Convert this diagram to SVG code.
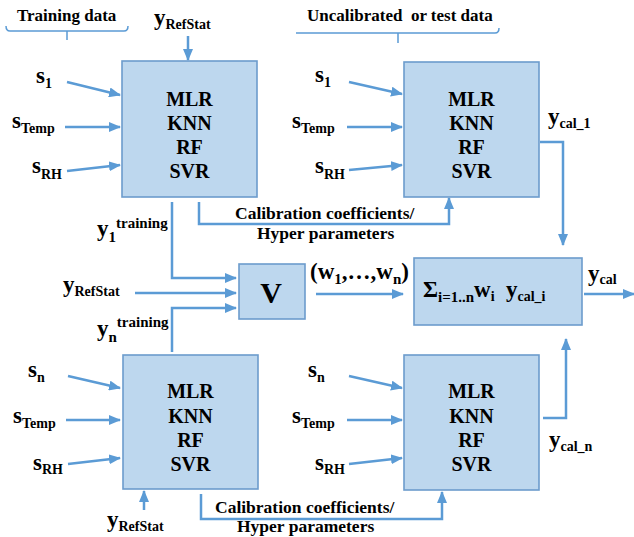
<svg xmlns="http://www.w3.org/2000/svg" width="634" height="537" viewBox="0 0 634 537">
<style>
.box{fill:#bdd7ee;stroke:#6c9ccc;stroke-width:1.6}
.c{fill:none;stroke:#5b9bd5;stroke-width:2.5}
.br{fill:none;stroke:#5b9bd5;stroke-width:1.5}
</style>
<defs>
<marker id="ah" markerUnits="userSpaceOnUse" markerWidth="12" markerHeight="10" refX="11" refY="5" orient="auto">
<path d="M0,0 L12,5 L0,10 Z" fill="#5b9bd5"/>
</marker>
</defs>

<g id="headers">
<text font-family="Liberation Serif" font-weight="bold" font-size="17" x="17" y="21">Training data</text>
<path class="br" d="M6,26 Q6,31 10,31 L124,31 Q128,31 128,26 M67,31 L67,40"/>
<text font-family="Liberation Serif" font-weight="bold" font-size="17" x="307" y="21">Uncalibrated&#160; or test data</text>
<path class="br" d="M296,33 L495,33 Q499,33 499,28 M398,33 L398,43"/>
</g>

<g id="model1">
<rect class="box" x="122" y="61" width="135" height="136"/>
<text font-family="Liberation Serif" font-weight="bold" font-size="20" text-anchor="middle" x="189.5" y="106">MLR</text>
<text font-family="Liberation Serif" font-weight="bold" font-size="20" text-anchor="middle" x="189.5" y="130">KNN</text>
<text font-family="Liberation Serif" font-weight="bold" font-size="20" text-anchor="middle" x="189.5" y="154">RF</text>
<text font-family="Liberation Serif" font-weight="bold" font-size="20" text-anchor="middle" x="189.5" y="178">SVR</text>
</g>
<g id="test1">
<rect class="box" x="404" y="62" width="135" height="135"/>
<text font-family="Liberation Serif" font-weight="bold" font-size="20" text-anchor="middle" x="471.5" y="106">MLR</text>
<text font-family="Liberation Serif" font-weight="bold" font-size="20" text-anchor="middle" x="471.5" y="130">KNN</text>
<text font-family="Liberation Serif" font-weight="bold" font-size="20" text-anchor="middle" x="471.5" y="154">RF</text>
<text font-family="Liberation Serif" font-weight="bold" font-size="20" text-anchor="middle" x="471.5" y="178">SVR</text>
</g>
<g id="modeln">
<rect class="box" x="123" y="355" width="135" height="134"/>
<text font-family="Liberation Serif" font-weight="bold" font-size="20" text-anchor="middle" x="190.5" y="398">MLR</text>
<text font-family="Liberation Serif" font-weight="bold" font-size="20" text-anchor="middle" x="190.5" y="423">KNN</text>
<text font-family="Liberation Serif" font-weight="bold" font-size="20" text-anchor="middle" x="190.5" y="447">RF</text>
<text font-family="Liberation Serif" font-weight="bold" font-size="20" text-anchor="middle" x="190.5" y="471">SVR</text>
</g>
<g id="testn">
<rect class="box" x="404" y="355" width="135" height="135"/>
<text font-family="Liberation Serif" font-weight="bold" font-size="20" text-anchor="middle" x="471.5" y="398">MLR</text>
<text font-family="Liberation Serif" font-weight="bold" font-size="20" text-anchor="middle" x="471.5" y="423">KNN</text>
<text font-family="Liberation Serif" font-weight="bold" font-size="20" text-anchor="middle" x="471.5" y="447">RF</text>
<text font-family="Liberation Serif" font-weight="bold" font-size="20" text-anchor="middle" x="471.5" y="471">SVR</text>
</g>
<g id="voting">
<rect class="box" x="239" y="264" width="66" height="55"/>
<text font-family="Liberation Serif" font-weight="bold" x="271" y="303" font-size="30" text-anchor="middle">V</text>
</g>
<g id="sum">
<rect class="box" x="414" y="258" width="168" height="67"/>
<text font-family="Liberation Serif" font-weight="bold" font-size="23" x="423" y="297">Σ<tspan font-size="15" dy="5">i=1..n</tspan><tspan dy="-5">w</tspan><tspan font-size="14" dy="4">i</tspan><tspan x="506" dy="-4">y</tspan><tspan font-size="14" dy="4">cal_i</tspan></text>
</g>

<g id="labels">
<text font-family="Liberation Serif" font-weight="bold" font-size="23" x="154" y="25">y<tspan font-size="14" dy="4">RefStat</tspan></text>
<text font-family="Liberation Serif" font-weight="bold" font-size="23" x="36" y="83">s<tspan font-size="14" dy="5">1</tspan></text>
<text font-family="Liberation Serif" font-weight="bold" font-size="23" x="12" y="128">s<tspan font-size="14" dy="5">Temp</tspan></text>
<text font-family="Liberation Serif" font-weight="bold" font-size="23" x="32" y="173">s<tspan font-size="14" dy="6">RH</tspan></text>
<text font-family="Liberation Serif" font-weight="bold" font-size="23" x="315" y="82">s<tspan font-size="14" dy="5">1</tspan></text>
<text font-family="Liberation Serif" font-weight="bold" font-size="23" x="292" y="128">s<tspan font-size="14" dy="5">Temp</tspan></text>
<text font-family="Liberation Serif" font-weight="bold" font-size="23" x="315" y="173">s<tspan font-size="14" dy="6">RH</tspan></text>
<text font-family="Liberation Serif" font-weight="bold" font-size="23" x="548" y="124">y<tspan font-size="14" dy="4">cal_1</tspan></text>
<text font-family="Liberation Serif" font-weight="bold" font-size="17.5" x="235" y="219">Calibration coefficients/</text>
<text font-family="Liberation Serif" font-weight="bold" font-size="17.5" x="257" y="239">Hyper parameters</text>
<text font-family="Liberation Serif" font-weight="bold" font-size="23" x="97" y="236">y<tspan font-size="15" dy="6">1</tspan><tspan font-size="15" dy="-14">training</tspan></text>
<text font-family="Liberation Serif" font-weight="bold" font-size="23" x="63" y="292">y<tspan font-size="14" dy="4">RefStat</tspan></text>
<text font-family="Liberation Serif" font-weight="bold" font-size="23" x="97" y="336">y<tspan font-size="15" dy="6">n</tspan><tspan font-size="15" dy="-15">training</tspan></text>
<text font-family="Liberation Serif" font-weight="bold" font-size="23" x="310" y="279">(w<tspan font-size="15" dy="5">1</tspan><tspan dy="-5">,…,w</tspan><tspan font-size="15" dy="5">n</tspan><tspan dy="-5">)</tspan></text>
<text font-family="Liberation Serif" font-weight="bold" font-size="23" x="588" y="281">y<tspan font-size="14" dy="3">cal</tspan></text>
<text font-family="Liberation Serif" font-weight="bold" font-size="23" x="28" y="377">s<tspan font-size="14" dy="5">n</tspan></text>
<text font-family="Liberation Serif" font-weight="bold" font-size="23" x="13" y="423">s<tspan font-size="14" dy="5">Temp</tspan></text>
<text font-family="Liberation Serif" font-weight="bold" font-size="23" x="33" y="470">s<tspan font-size="14" dy="4">RH</tspan></text>
<text font-family="Liberation Serif" font-weight="bold" font-size="23" x="308" y="377">s<tspan font-size="14" dy="5">n</tspan></text>
<text font-family="Liberation Serif" font-weight="bold" font-size="23" x="292" y="423">s<tspan font-size="14" dy="5">Temp</tspan></text>
<text font-family="Liberation Serif" font-weight="bold" font-size="23" x="315" y="470">s<tspan font-size="14" dy="4">RH</tspan></text>
<text font-family="Liberation Serif" font-weight="bold" font-size="23" x="549" y="447">y<tspan font-size="14" dy="4">cal_n</tspan></text>
<text font-family="Liberation Serif" font-weight="bold" font-size="23" x="107" y="527">y<tspan font-size="14" dy="4">RefStat</tspan></text>
<text font-family="Liberation Serif" font-weight="bold" font-size="17.5" x="215" y="513">Calibration coefficients/</text>
<text font-family="Liberation Serif" font-weight="bold" font-size="17.5" x="237" y="532">Hyper parameters</text>
</g>

<g id="connectors">
<path class="c" marker-end="url(#ah)" d="M188,36 L188,60"/>
<path class="c" marker-end="url(#ah)" d="M67,82 L120,95"/>
<path class="c" marker-end="url(#ah)" d="M65,127 L120,127"/>
<path class="c" marker-end="url(#ah)" d="M67,171 L120,165"/>
<path class="c" marker-end="url(#ah)" d="M349,82 L402,94"/>
<path class="c" marker-end="url(#ah)" d="M347,127 L402,127"/>
<path class="c" marker-end="url(#ah)" d="M349,170 L402,165"/>
<path class="c" marker-end="url(#ah)" d="M540,142 L563,142 L563,245"/>
<path class="c" marker-end="url(#ah)" d="M199,202 L199,224 L449,224 L449,198"/>
<path class="c" marker-end="url(#ah)" d="M172,202 L172,278 L236,278"/>
<path class="c" marker-end="url(#ah)" d="M135,293 L236,293"/>
<path class="c" marker-end="url(#ah)" d="M172,352 L172,308 L236,308"/>
<path class="c" marker-end="url(#ah)" d="M316,294 L403,294"/>
<path class="c" marker-end="url(#ah)" d="M584,294 L634,294"/>
<path class="c" marker-end="url(#ah)" d="M543,418 L566,418 L566,339"/>
<path class="c" marker-end="url(#ah)" d="M68,376 L120,388"/>
<path class="c" marker-end="url(#ah)" d="M66,420 L120,420"/>
<path class="c" marker-end="url(#ah)" d="M68,464 L120,458"/>
<path class="c" marker-end="url(#ah)" d="M349,376 L402,388"/>
<path class="c" marker-end="url(#ah)" d="M347,420 L402,420"/>
<path class="c" marker-end="url(#ah)" d="M349,464 L402,458"/>
<path class="c" marker-end="url(#ah)" d="M144,510 L144,491"/>
<path class="c" marker-end="url(#ah)" d="M201,494 L201,519 L442,519 L442,492"/>
</g>
</svg>
